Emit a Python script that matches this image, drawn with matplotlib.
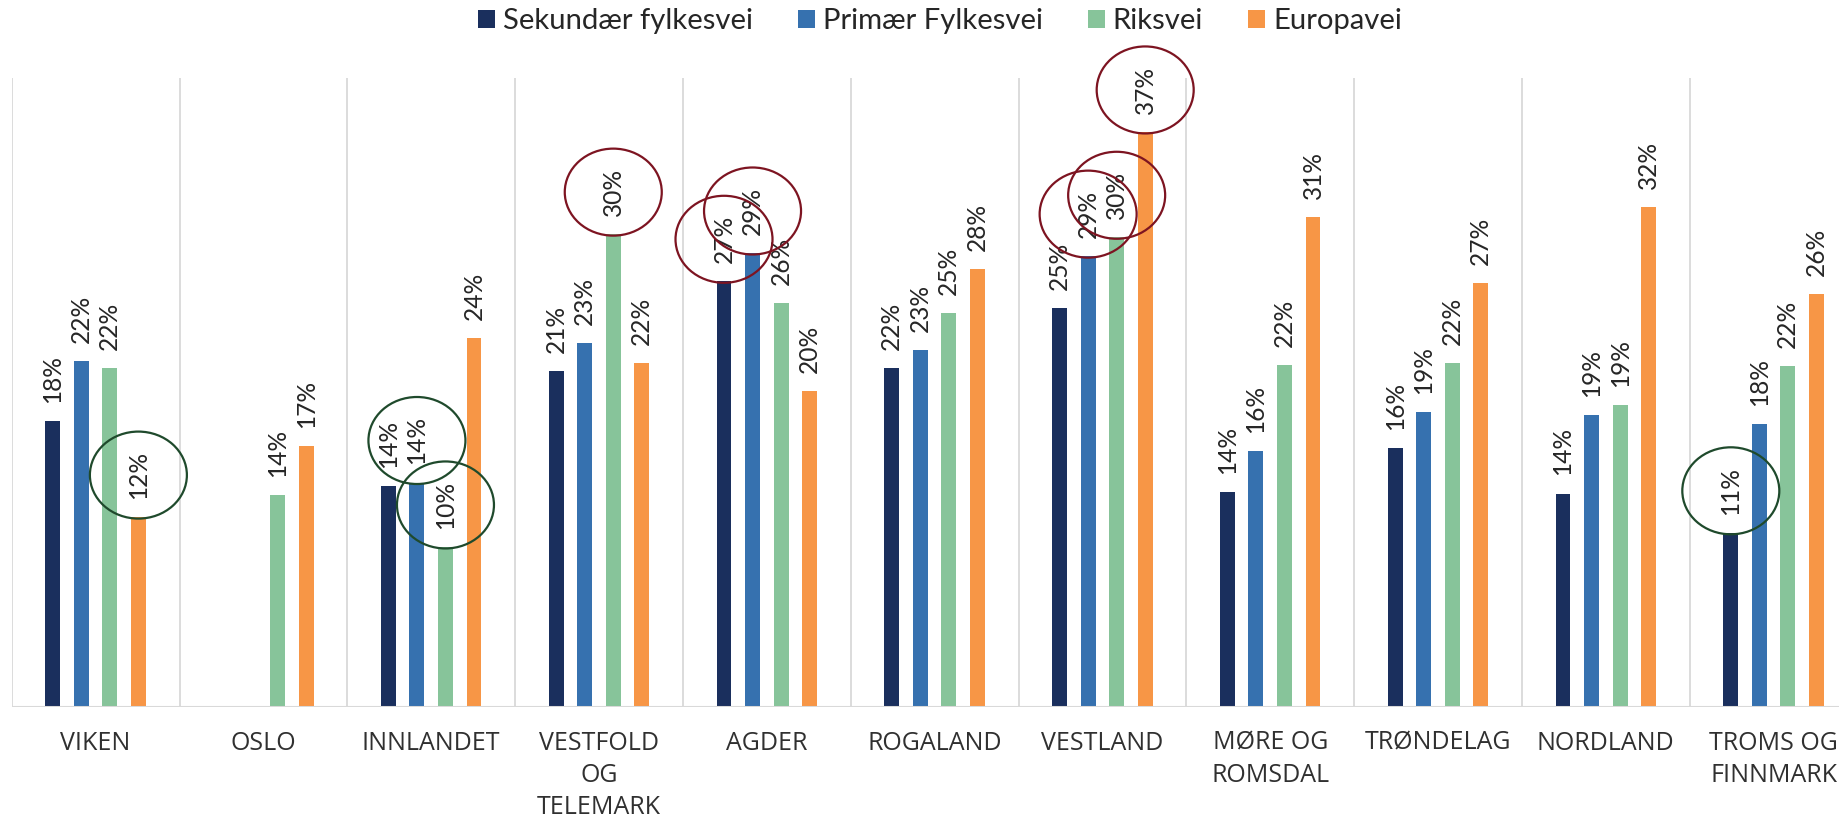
import matplotlib
matplotlib.use("Agg")
import matplotlib.pyplot as plt
from matplotlib.patches import Ellipse, Patch
from matplotlib.transforms import offset_copy
import numpy as np
import textwrap

# ---------------- data ----------------
categories = ["VIKEN", "OSLO", "INNLANDET", "VESTFOLD OG TELEMARK", "AGDER",
              "ROGALAND", "VESTLAND", "MØRE OG ROMSDAL", "TRØNDELAG",
              "NORDLAND", "TROMS OG FINNMARK"]
series_names = ["Sekundær fylkesvei", "Primær Fylkesvei", "Riksvei", "Europavei"]

sekundaer_fylkesvei = [18.2, np.nan, 14.1, 21.4, 27.1, 21.6, 25.4, 13.7, 16.5, 13.6, 11.1]
primaer_fylkesvei   = [22.0, np.nan, 14.3, 23.2, 28.9, 22.7, 28.7, 16.3, 18.8, 18.6, 18.0]
riksvei             = [21.6, 13.5, 10.2, 30.1, 25.7, 25.1, 29.9, 21.8, 21.9, 19.2, 21.7]
europavei           = [12.1, 16.6, 23.5, 21.9, 20.1, 27.9, 36.6, 31.2, 27.0, 31.8, 26.3]

# highlighted labels: (category index, series index)
lowest_marked  = [(0, 3), (2, 1), (2, 2), (10, 0)]
highest_marked = [(3, 2), (4, 0), (4, 1), (6, 1), (6, 2), (6, 3)]

# ---------------- style ----------------
colors = ["#1A2F5D", "#3671AF", "#87C49A", "#F79646"]
low_color = "#1F4A2C"
high_color = "#7D1421"
grid_color = "#D9D9D9"
font = "Lato"
tick_font = "Open Sans"

W, H, DPI = 1839, 818, 100
fig = plt.figure(figsize=(W / DPI, H / DPI), dpi=DPI)
fig.patch.set_facecolor("white")
renderer = fig.canvas.get_renderer()


def text_width(s, size, family=font):
    t = fig.text(0, 0, s, fontsize=size, family=family)
    w = t.get_window_extent(renderer).width
    t.remove()
    return w


# font sizes fitted to the pixel lengths measured on the reference
legend_size = 18 * 250 / text_width("Sekundær fylkesvei", 18)
label_size = 17 * 48 / text_width("18%", 17)
tick_size = 16 * 146 / text_width("TRØNDELAG", 16, tick_font)

px_per_cat = 167.8
left_px, base_px = 11.7, 707.3
ymax = 40
px_per_pct = 15.72
ax = fig.add_axes([left_px / W, (H - base_px) / H,
                   11 * px_per_cat / W, ymax * px_per_pct / H])

series = [sekundaer_fylkesvei, primaer_fylkesvei, riksvei, europavei]
x = np.arange(len(categories))
step = 0.170
bw = 0.089
offsets = (np.arange(4) - 1.5) * step

label_offset_pt = 13
for i, (vals, c, name) in enumerate(zip(series, colors, series_names)):
    xs = x + offsets[i]
    ax.bar(xs, vals, width=bw, color=c, label=name, zorder=3, linewidth=0)
    for xi, v in zip(xs, vals):
        if np.isnan(v):
            continue
        ax.annotate(f"{v:.0f}%", (xi, v), xytext=(0, label_offset_pt),
                    textcoords="offset points", rotation=90, ha="center",
                    va="bottom", fontsize=label_size, family=font, color="#262626",
                    zorder=5, annotation_clip=False)

# circles around highlighted labels
center_shift = offset_copy(ax.transData, fig=fig, x=0, y=42, units="dots")
ell_w = 97 / px_per_cat
ell_h = 87 / px_per_pct
for marks, col in ((lowest_marked, low_color), (highest_marked, high_color)):
    for ci, si in marks:
        v = series[si][ci]
        e = Ellipse((x[ci] + offsets[si], v), ell_w, ell_h, transform=center_shift,
                    fill=False, edgecolor=col, linewidth=1.6, zorder=6, clip_on=False)
        ax.add_patch(e)

ax.set_xlim(-0.5, len(categories) - 0.5)
ax.set_ylim(0, ymax)
ax.set_yticks([])
ax.set_xticks(x)
ax.set_xticklabels([textwrap.fill(c, 9) for c in categories], fontsize=tick_size,
                   family=tick_font, color="#303030", linespacing=1.38)
ax.tick_params(axis="x", which="major", length=0, pad=17)
ax.set_xticks(np.arange(-0.5, len(categories), 1), minor=True)
ax.tick_params(axis="x", which="minor", length=0)
ax.grid(which="minor", axis="x", color=grid_color, linewidth=1.3, zorder=0)
for s in ax.spines.values():
    s.set_visible(False)
ax.axhline(0, color=grid_color, linewidth=2.2, zorder=4)

fs_px = legend_size * DPI / 72
handles = [Patch(facecolor=c, edgecolor="none") for c in colors]
fig.legend(handles, series_names, loc="center", bbox_to_anchor=(0.511, 0.974),
           ncol=4, frameon=False, handlelength=17 / fs_px, handleheight=17 / fs_px,
           handletextpad=8 / fs_px, columnspacing=45 / fs_px, borderpad=0.2,
           prop={"family": font, "size": legend_size})
for t in fig.legends[0].get_texts():
    t.set_color("#262626")

fig.savefig("out.png", dpi=DPI, facecolor="white")
